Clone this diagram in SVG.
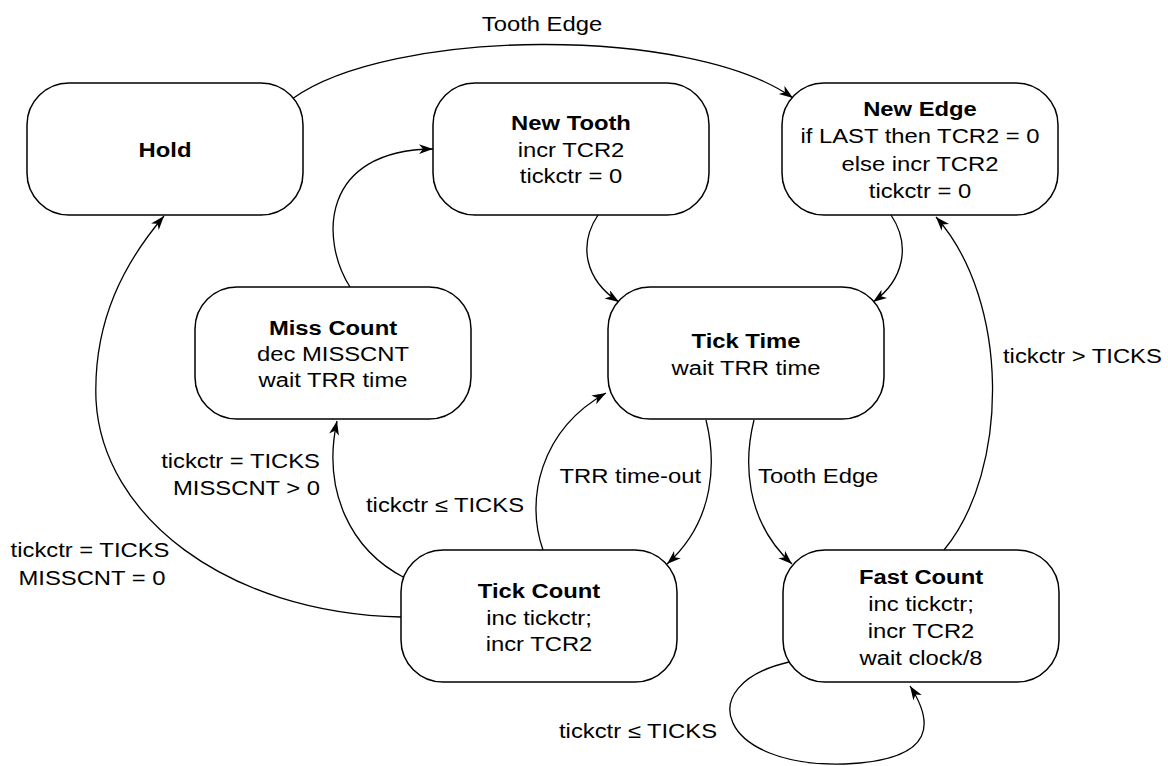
<svg xmlns="http://www.w3.org/2000/svg" width="1168" height="766" viewBox="0 0 1168 766">
<defs>
<marker id="arr" markerUnits="userSpaceOnUse" markerWidth="16" markerHeight="12" refX="14" refY="5" orient="auto">
<path d="M0,0 L14,5 L0,10 L4,5 z" fill="#000"/>
</marker>
<style>
.box{fill:#fff;stroke:#000;stroke-width:1.5}
.t{font-family:"Liberation Sans",Arial,sans-serif;font-size:20px;fill:#000}
.b{font-weight:bold}
.c{text-anchor:middle}
.e{text-anchor:end}
.s{text-anchor:start}
.ln{fill:none;stroke:#000;stroke-width:1.3;marker-end:url(#arr)}
</style>
</defs>
<rect width="1168" height="766" fill="#fff"/>
<g id="connectors">
<path class="ln" d="M292,99 C 390,28 690,25 793,98"/>
<path class="ln" d="M401,617 C 225,613 102,515 96,400 C 93,320 125,262 164,216"/>
<path class="ln" d="M405,578 C 350,550 322,490 337,421"/>
<path class="ln" d="M350,287 C 320,240 320,150 433,149"/>
<path class="ln" d="M598,215 C 578,245 585,280 619,302"/>
<path class="ln" d="M891,215 C 911,245 904,280 873,302"/>
<path class="ln" d="M543,550 C 525,500 540,430 606,393"/>
<path class="ln" d="M706,420 C 716,460 716,520 667,564"/>
<path class="ln" d="M754,420 C 744,460 744,520 792,564"/>
<path class="ln" d="M944,550 C 1010,470 1010,300 936,217"/>
<path class="ln" d="M789,662 C 690,685 720,768 845,764 C 940,760 932,720 910,686"/>
<g id="labels">
<text class="t c" transform="translate(542,31) scale(1.19,1)">Tooth Edge</text>
<text class="t c" transform="translate(90,557) scale(1.19,1)">tickctr = TICKS</text>
<text class="t c" transform="translate(92,585) scale(1.19,1)">MISSCNT = 0</text>
<text class="t e" transform="translate(320,468) scale(1.19,1)">tickctr = TICKS</text>
<text class="t e" transform="translate(320,495) scale(1.19,1)">MISSCNT &gt; 0</text>
<text class="t e" transform="translate(524,512) scale(1.19,1)">tickctr ≤ TICKS</text>
<text class="t e" transform="translate(701,483) scale(1.19,1)">TRR time-out</text>
<text class="t s" transform="translate(758,483) scale(1.19,1)">Tooth Edge</text>
<text class="t s" transform="translate(1003,363) scale(1.19,1)">tickctr &gt; TICKS</text>
<text class="t e" transform="translate(717,738) scale(1.19,1)">tickctr ≤ TICKS</text>
</g>
</g>
<g id="hold">
<rect class="box" x="27" y="83" width="276" height="132" rx="42"/>
<text class="t b c" transform="translate(165,157) scale(1.19,1)">Hold</text>
</g>
<g id="newtooth">
<rect class="box" x="433" y="83" width="276" height="132" rx="42"/>
<text class="t c" transform="translate(571,0) scale(1.19,1)"><tspan class="b" x="0" y="130.5">New Tooth</tspan><tspan x="0" y="157">incr TCR2</tspan><tspan x="0" y="183.5">tickctr = 0</tspan></text>
</g>
<g id="newedge">
<rect class="box" x="782" y="83" width="276" height="132" rx="42"/>
<text class="t c" transform="translate(920,0) scale(1.19,1)"><tspan class="b" x="0" y="116">New Edge</tspan><tspan x="0" y="143.5">if LAST then TCR2 = 0</tspan><tspan x="0" y="171">else incr TCR2</tspan><tspan x="0" y="198">tickctr = 0</tspan></text>
</g>
<g id="misscount">
<rect class="box" x="195" y="287" width="276" height="132" rx="42"/>
<text class="t c" transform="translate(333,0) scale(1.19,1)"><tspan class="b" x="0" y="335">Miss Count</tspan><tspan x="0" y="361">dec MISSCNT</tspan><tspan x="0" y="387">wait TRR time</tspan></text>
</g>
<g id="ticktime">
<rect class="box" x="608" y="287" width="276" height="132" rx="42"/>
<text class="t c" transform="translate(746,0) scale(1.19,1)"><tspan class="b" x="0" y="348">Tick Time</tspan><tspan x="0" y="375">wait TRR time</tspan></text>
</g>
<g id="tickcount">
<rect class="box" x="401" y="550" width="276" height="132" rx="42"/>
<text class="t c" transform="translate(539,0) scale(1.19,1)"><tspan class="b" x="0" y="598.5">Tick Count</tspan><tspan x="0" y="625">inc tickctr;</tspan><tspan x="0" y="651.5">incr TCR2</tspan></text>
</g>
<g id="fastcount">
<rect class="box" x="783" y="550" width="276" height="132" rx="42"/>
<text class="t c" transform="translate(921,0) scale(1.19,1)"><tspan class="b" x="0" y="584.5">Fast Count</tspan><tspan x="0" y="611.5">inc tickctr;</tspan><tspan x="0" y="638">incr TCR2</tspan><tspan x="0" y="665">wait clock/8</tspan></text>
</g>
</svg>
